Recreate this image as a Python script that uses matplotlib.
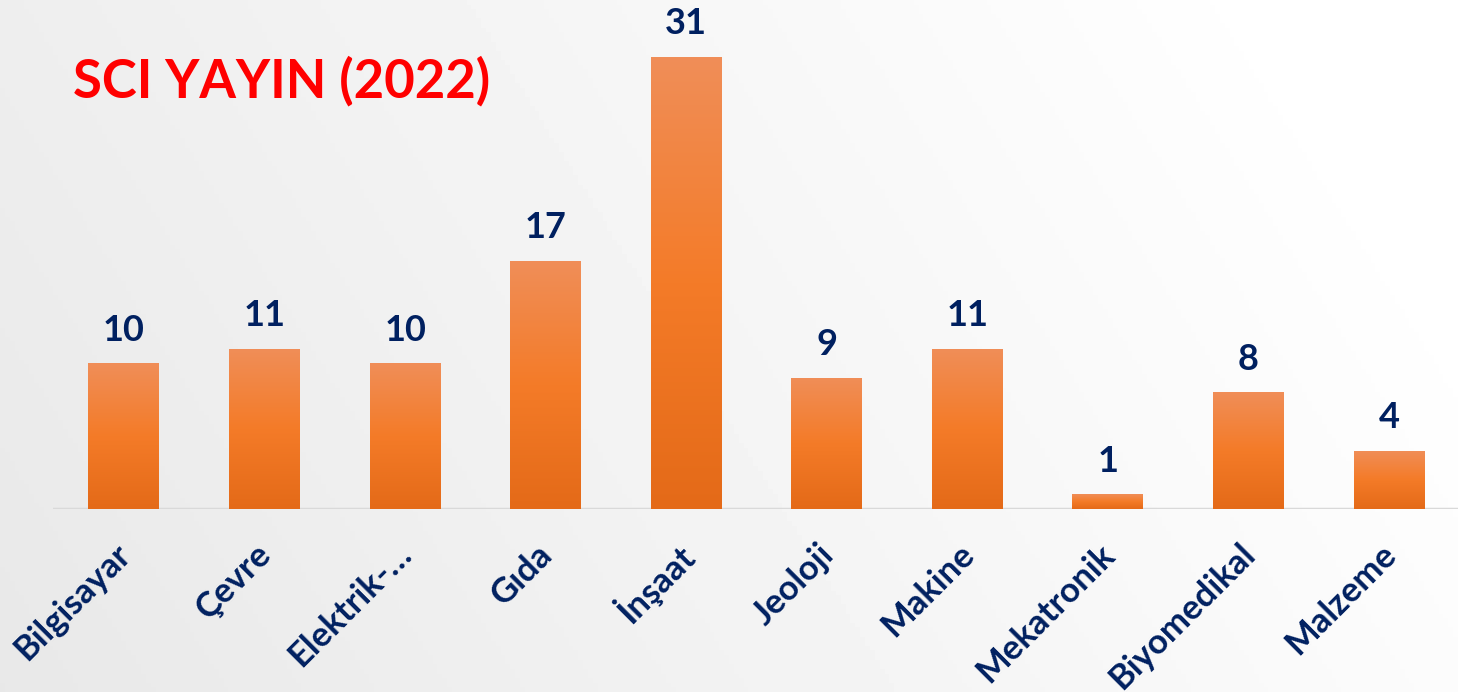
import numpy as np
import matplotlib
matplotlib.use('Agg')
from matplotlib import pyplot as plt
from matplotlib import patheffects as pe
from matplotlib.colors import LinearSegmentedColormap
from matplotlib.transforms import ScaledTranslation

# veriler
bolumler = ['Bilgisayar', 'Çevre', 'Elektrik-…', 'Gıda', 'İnşaat',
            'Jeoloji', 'Makine', 'Mekatronik', 'Biyomedikal', 'Malzeme']
yayin_sayisi = [10, 11, 10, 17, 31, 9, 11, 1, 8, 4]
baslik = 'SCI YAYIN (2022)'

LACIVERT = '#002060'
FONT = ['Lato', 'DejaVu Sans']

fig = plt.figure(figsize=(14.58, 6.92), dpi=100)

# arka plan: soldan saga gri -> beyaz
bg = fig.add_axes([0, 0, 1, 1], zorder=-10)
gx = np.linspace(0, 1, 300)
gy = np.linspace(0, 1, 150)
X, Y = np.meshgrid(gx, gy)
val = 0.91 + 0.09 * np.clip(X * 0.85 + Y * 0.25, 0, 1)
bg.imshow(val, cmap='gray', vmin=0, vmax=1, aspect='auto',
          extent=[0, 1, 0, 1], origin='lower')
bg.axis('off')

ax = fig.add_axes([53 / 1458, (692 - 509) / 692, 1 - 53 / 1458, 509 / 692])
ax.patch.set_alpha(0)

x = np.arange(len(bolumler))
bars = ax.bar(x, yayin_sayisi, width=0.505, color='#F47B28', zorder=3,
              path_effects=[pe.SimplePatchShadow(offset=(0, -1.5), shadow_rgbFace='#555555', alpha=0.25),
                            pe.Normal()])

# cubuklarda dikey renk gecisi
cmap = LinearSegmentedColormap.from_list('turuncu', ['#E46A18', '#F47B28', '#F08E58'])
grad = np.linspace(0, 1, 256).reshape(-1, 1)
for b in bars:
    im = ax.imshow(grad, cmap=cmap, aspect='auto', origin='lower', zorder=4,
                   extent=[b.get_x(), b.get_x() + b.get_width(), 0, b.get_height()])
    im.set_clip_path(b)

ax.axhline(0, color='#d9d9d9', lw=2.5, zorder=2)

for xi, v in zip(x, yayin_sayisi):
    ax.annotate(str(v), (xi, v), xytext=(0, 12), textcoords='offset points',
                ha='center', va='bottom', fontsize=26, fontweight='bold',
                color=LACIVERT, family=FONT)

ax.set_xlim(-0.505, 9.49)
ax.set_ylim(0, 509 / 14.58)
ax.set_yticks([])
ax.set_xticks(x)
ax.set_xticklabels(bolumler, rotation=45, ha='right', va='center',
                   rotation_mode='anchor', fontsize=25, fontweight='bold',
                   color=LACIVERT, family=FONT)
ax.tick_params(axis='x', length=0, pad=29)
kaydir = ScaledTranslation(1.5 / 100, 0, fig.dpi_scale_trans)
for lbl in ax.get_xticklabels():
    lbl.set_transform(lbl.get_transform() + kaydir)
for s in ax.spines.values():
    s.set_visible(False)

fig.text(73 / 1458, 1 - 98 / 692, baslik, color='#FF0000', fontsize=38,
         fontweight='bold', family=FONT, ha='left', va='baseline')

plt.savefig('out.png', dpi=100)
